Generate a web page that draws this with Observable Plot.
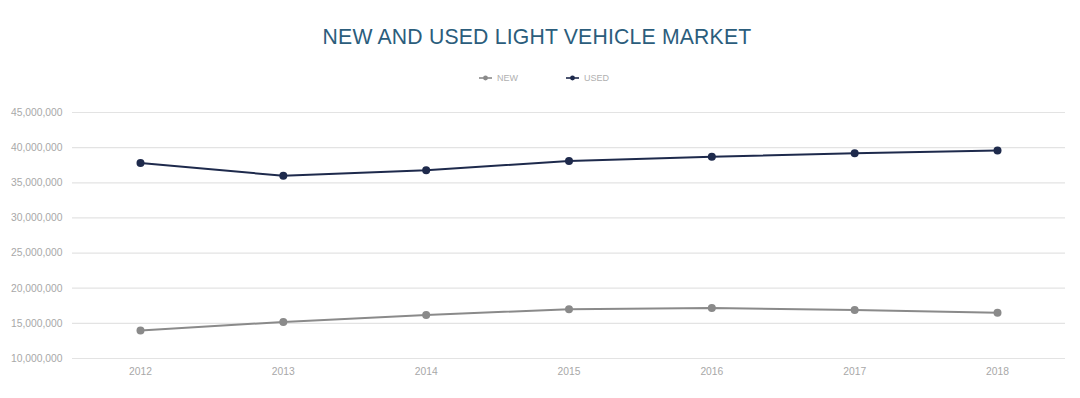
<!DOCTYPE html>
<html><head><meta charset="utf-8">
<script src="https://cdn.jsdelivr.net/npm/d3@7"></script>
<script src="https://cdn.jsdelivr.net/npm/@observablehq/plot@0.6"></script>
<style>
body{margin:0;background:#fff;font-family:"Liberation Sans",Arial,sans-serif;width:1080px;overflow:hidden;}
#title{height:60px;box-sizing:border-box;padding-top:26px;text-align:center;font-size:21.2px;line-height:22px;color:#2b5d7c;letter-spacing:0.2px;padding-right:6px;}
#legend{height:35px;display:flex;justify-content:center;align-items:center;gap:48px;padding-left:8px;box-sizing:border-box;font-size:9px;color:#b0b0b0;}
.item{display:flex;align-items:center;gap:5px;}
</style></head><body>
<div id="title">NEW AND USED LIGHT VEHICLE MARKET</div>
<div id="legend"></div>
<div id="chart"></div>
<script>
const years = ["2012","2013","2014","2015","2016","2017","2018"];
const newSales = [14.0e6, 15.2e6, 16.2e6, 17.0e6, 17.2e6, 16.9e6, 16.5e6];
const usedSales = [37.8e6, 36.0e6, 36.8e6, 38.1e6, 38.7e6, 39.2e6, 39.6e6];
const yTicks = [10e6, 15e6, 20e6, 25e6, 30e6, 35e6, 40e6, 45e6];
const seriesNames = ["NEW", "USED"];
const seriesColors = ["#8a8a8a", "#1e2a4c"];

const data = [];
years.forEach((y, i) => {
  data.push({year: y, series: "NEW", value: newSales[i]});
  data.push({year: y, series: "USED", value: usedSales[i]});
});

// legend
const legend = document.getElementById("legend");
seriesNames.forEach((name, i) => {
  const item = document.createElement("div");
  item.className = "item";
  item.innerHTML = `<svg width="13" height="8"><line x1="0" y1="4" x2="13" y2="4" stroke="${seriesColors[i]}" stroke-width="1.6"/><circle cx="6.5" cy="4" r="2.4" fill="${seriesColors[i]}"/></svg><span>${name}</span>`;
  legend.appendChild(item);
});

const chart = Plot.plot({
  width: 1080,
  height: 303,
  marginLeft: 72,
  marginRight: 15,
  marginTop: 17,
  marginBottom: 40,
  style: {fontFamily: "'Liberation Sans', Arial, sans-serif", fontSize: "10.3px", color: "#a8a8a8", background: "#fff"},
  x: {type: "point", domain: years, padding: 0.476, round: false, label: null},
  y: {domain: [10e6, 45e6], label: null},
  color: {domain: seriesNames, range: seriesColors},
  marks: [
    Plot.ruleY(yTicks, {stroke: "#e3e3e3", strokeWidth: 1.2}),
    Plot.axisY(yTicks, {tickSize: 0, tickPadding: 10, tickFormat: d3.format(","), label: null, fill: "#a8a8a8"}),
    Plot.axisX({tickSize: 0, tickPadding: 9, label: null, fill: "#a8a8a8"}),
    Plot.line(data, {x: "year", y: "value", stroke: "series", strokeWidth: 2}),
    Plot.dot(data, {x: "year", y: "value", fill: "series", r: 4})
  ]
});
document.getElementById("chart").appendChild(chart);
</script>
</body></html>
